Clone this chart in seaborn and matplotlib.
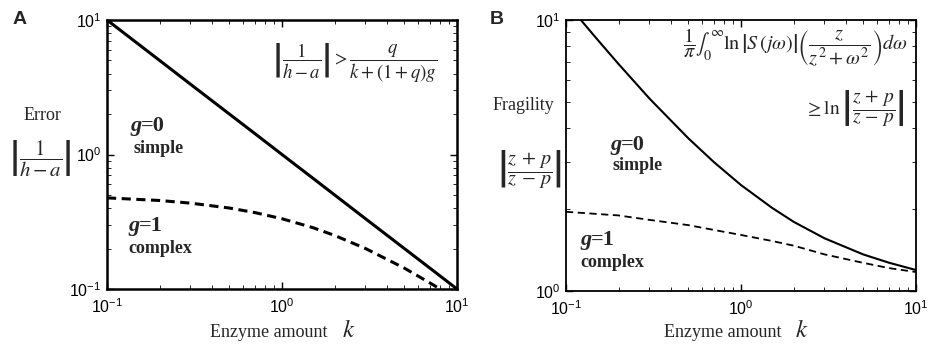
import numpy as np
import pandas as pd
import matplotlib
matplotlib.use("Agg")
import matplotlib.pyplot as plt
import matplotlib.transforms as mtransforms
from matplotlib.ticker import NullFormatter
import seaborn as sns

# === Data ===
# Panel A: error |1/(h-a)| vs enzyme amount k
k_a = [0.1, 0.2, 0.3, 0.5, 0.7, 1.0, 1.5, 2.0, 3.0, 5.0, 7.0, 10.0]
err_simple = [10.0, 5.0, 3.33, 2.0, 1.43, 1.0, 0.667, 0.5, 0.333, 0.2, 0.143, 0.1]
k_a_cx = [0.1, 0.2, 0.3, 0.5, 0.7, 1.0, 1.5, 2.0, 3.0, 5.0, 7.0, 8.0, 9.0]
err_complex = [0.476, 0.455, 0.435, 0.40, 0.37, 0.333, 0.286, 0.25, 0.20, 0.143, 0.111, 0.10, 0.091]

# Panel B: fragility |(z+p)/(z-p)| vs enzyme amount k
k_b = [0.12, 0.15, 0.2, 0.3, 0.5, 0.7, 1.0, 1.5, 2.0, 3.0, 5.0, 7.0, 10.0]
frag_simple = [10.1, 8.52, 6.87, 5.13, 3.66, 2.99, 2.46, 2.03, 1.80, 1.565, 1.364, 1.272, 1.195]
k_b_cx = [0.1, 0.2, 0.3, 0.5, 0.7, 1.0, 1.5, 2.0, 3.0, 5.0, 7.0, 10.0]
frag_complex = [1.96, 1.90, 1.83, 1.75, 1.68, 1.61, 1.53, 1.47, 1.365, 1.27, 1.215, 1.175]

W, H = 938, 344

sns.set_theme(style="ticks")
plt.rcParams['font.family'] = ['Liberation Sans', 'DejaVu Sans']
plt.rcParams['mathtext.fontset'] = 'stix'
plt.rcParams['xtick.direction'] = 'in'
plt.rcParams['ytick.direction'] = 'in'

fig = plt.figure(figsize=(W / 100, H / 100), dpi=100)
ax_a = fig.add_axes([107 / W, 1 - 289 / H, 350 / W, 269 / H])
ax_b = fig.add_axes([566 / W, 1 - 291 / H, 350 / W, 271 / H])

df_a1 = pd.DataFrame({'k': k_a, 'v': err_simple})
df_a2 = pd.DataFrame({'k': k_a_cx, 'v': err_complex})
df_b1 = pd.DataFrame({'k': k_b, 'v': frag_simple})
df_b2 = pd.DataFrame({'k': k_b_cx, 'v': frag_complex})

sns.lineplot(data=df_a1, x='k', y='v', ax=ax_a, color='black', lw=2.2)
sns.lineplot(data=df_a2, x='k', y='v', ax=ax_a, color='black', lw=2.2,
             linestyle=(0, (3, 1.8)))
sns.lineplot(data=df_b1, x='k', y='v', ax=ax_b, color='black', lw=1.5)
sns.lineplot(data=df_b2, x='k', y='v', ax=ax_b, color='black', lw=1.3,
             linestyle=(0, (4, 2.5)))

for ax, ylim, spw in [(ax_a, (0.1, 10), 1.8), (ax_b, (1, 10), 1.3)]:
    ax.set(xscale='log', yscale='log', xlim=(0.1, 10), ylim=ylim, xlabel='', ylabel='')
    ax.xaxis.set_minor_formatter(NullFormatter())
    ax.yaxis.set_minor_formatter(NullFormatter())
    for s in ax.spines.values():
        s.set_visible(True)
        s.set_linewidth(spw)
        s.set_color('black')
    ax.tick_params(which='both', top=True, right=True, labelsize=11.5, colors='black')
    ax.tick_params(which='major', length=5, width=1)
    ax.tick_params(which='minor', length=3, width=0.6)
    ax.tick_params(axis='x', pad=6)
    ax.tick_params(axis='y', pad=4)

serif = ['Liberation Serif', 'DejaVu Serif']


def ft(x, y, s, **kw):
    kw.setdefault('family', serif)
    return fig.text(x / W, 1 - y / H, s, **kw)


def g_label(x, y, rest):
    # bold italic g followed by upright bold "=0"/"=1"
    ft(x, y, 'g', fontsize=16, fontweight='bold', fontstyle='italic', va='baseline')
    tr = mtransforms.offset_copy(fig.transFigure, fig=fig, x=7.5, y=0, units='points')
    fig.text(x / W, 1 - y / H, rest, transform=tr, family=serif, fontsize=16,
             fontweight='bold', va='baseline')


def xlabel(x_right, y):
    # "Enzyme amount" with a larger italic k
    ft(x_right, y, 'Enzyme amount', fontsize=13, ha='right', va='baseline')
    ft(x_right + 14, y, r'$k$', fontsize=18, ha='left', va='baseline')


# panel letters
fig.text(20 / W, 1 - 20 / H, 'A', fontsize=14, fontweight='bold', ha='center', va='center')
fig.text(497 / W, 1 - 20 / H, 'B', fontsize=14, fontweight='bold', ha='center', va='center')

# panel A labels
ft(42, 116, 'Error', fontsize=13, ha='center', va='center')
ft(40, 159, r'$\left|\dfrac{1}{h-a}\right|$', fontsize=15, ha='center', va='center')
xlabel(328, 337)
ft(437, 62, r'$\left|\dfrac{1}{h-a}\right| > \dfrac{q}{k+\left(1+q\right)g}$',
   fontsize=13.5, ha='right', va='center')
g_label(130, 131, '=0')
ft(134, 153, 'simple', fontsize=13, fontweight='bold', va='baseline')
g_label(128, 231, '=1')
ft(128, 253, 'complex', fontsize=13, fontweight='bold', va='baseline')

# panel B labels
ft(523, 106, 'Fragility', fontsize=13, ha='center', va='center')
ft(530, 169, r'$\left|\dfrac{z\,+\,p}{z\,-\,p}\right|$', fontsize=14.5, ha='center', va='center')
xlabel(781, 337)
ft(908, 48, r'$\dfrac{1}{\pi}\int_0^\infty \ln\left|S\,(j\omega)\right|\left(\dfrac{z}{z^2+\omega^2}\right)d\omega$',
   fontsize=14.5, ha='right', va='center')
ft(905, 108, r'$\geq\ln\left|\dfrac{z\,+\,p}{z\,-\,p}\right|$', fontsize=14, ha='right', va='center')
g_label(610, 150, '=0')
ft(612, 170, 'simple', fontsize=13, fontweight='bold', va='baseline')
g_label(580, 245, '=1')
ft(580, 267, 'complex', fontsize=13, fontweight='bold', va='baseline')

fig.savefig('out.png', dpi=100)
